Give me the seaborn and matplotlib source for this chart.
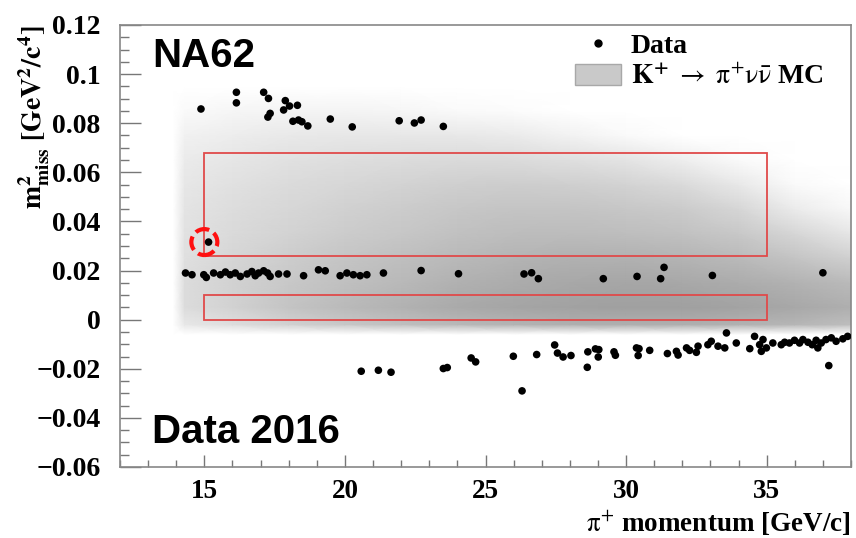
import numpy as np
import pandas as pd
import matplotlib
matplotlib.use("Agg")
import matplotlib.pyplot as plt
import seaborn as sns
from matplotlib.patches import Rectangle, Ellipse, Patch
from matplotlib.lines import Line2D
from matplotlib.ticker import MultipleLocator, FuncFormatter
from matplotlib.font_manager import FontProperties

# ---------------- data ----------------
# events above the signal region (m2 ~ 0.08)
high_p = [14.88, 16.14, 16.14, 17.11, 17.28, 17.34, 17.26, 17.88, 17.82, 18.03,
          18.31, 18.15, 18.35, 18.47, 18.68, 19.48, 20.26, 21.93, 22.47, 22.71, 23.50]
high_m2 = [0.0858, 0.0926, 0.0883, 0.0926, 0.0901, 0.0840, 0.0825, 0.0892, 0.0854, 0.0870,
           0.0873, 0.0808, 0.0813, 0.0806, 0.0789, 0.0817, 0.0785, 0.0810, 0.0801, 0.0813, 0.0787]

# K -> pi pi0 band (m2 ~ 0.018) and the candidate event
mid_p = [14.33, 14.56, 14.98, 15.07, 15.33, 15.57, 15.75, 15.92, 16.10, 16.28,
         16.52, 16.69, 16.81, 16.93, 17.11, 17.25, 17.34, 17.64, 17.94, 18.53,
         19.06, 19.30, 19.83, 20.07, 20.30, 20.54, 20.78, 21.37, 22.71, 24.04,
         26.37, 26.64, 26.88, 29.19, 30.39, 31.23, 31.35, 33.07, 37.00, 15.15]
mid_m2 = [0.0190, 0.0183, 0.0183, 0.0172, 0.0190, 0.0183, 0.0194, 0.0183, 0.0190, 0.0176,
          0.0186, 0.0196, 0.0179, 0.0190, 0.0199, 0.0190, 0.0176, 0.0186, 0.0186, 0.0179,
          0.0203, 0.0199, 0.0179, 0.0190, 0.0183, 0.0179, 0.0183, 0.0190, 0.0200, 0.0187,
          0.0186, 0.0191, 0.0167, 0.0167, 0.0176, 0.0167, 0.0213, 0.0180, 0.0191, 0.0316]

# K -> mu nu band (negative m2)
low_p = [20.58, 21.19, 21.64, 23.50, 23.64, 24.49, 24.65, 25.99, 26.30, 26.82,
         27.46, 27.56, 27.76, 28.04, 28.62, 28.64, 28.91, 29.01, 29.03, 29.57,
         29.62, 30.37, 30.43, 30.46, 30.84, 31.47, 31.79, 31.85, 32.15, 32.26,
         32.50, 32.56, 32.91, 33.03, 33.27, 33.51, 33.57, 33.92, 34.40, 34.57,
         34.75, 34.81, 34.87, 34.99, 35.22, 35.52, 35.64, 35.81, 35.99, 36.17,
         36.29, 36.47, 36.62, 36.76, 36.82, 36.94, 37.11, 37.21, 37.30, 37.47,
         37.71, 37.88]
low_m2 = [-0.0210, -0.0206, -0.0214, -0.0199, -0.0195, -0.0156, -0.0172, -0.0149, -0.0290, -0.0142,
          -0.0103, -0.0136, -0.0152, -0.0146, -0.0194, -0.0131, -0.0119, -0.0152, -0.0122, -0.0131,
          -0.0145, -0.0115, -0.0146, -0.0118, -0.0125, -0.0138, -0.0129, -0.0144, -0.0115, -0.0125,
          -0.0133, -0.0108, -0.0102, -0.0088, -0.0108, -0.0115, -0.0054, -0.0095, -0.0118, -0.0068,
          -0.0102, -0.0129, -0.0081, -0.0115, -0.0095, -0.0102, -0.0092, -0.0095, -0.0084, -0.0095,
          -0.0081, -0.0092, -0.0102, -0.0084, -0.0115, -0.0095, -0.0081, -0.0187, -0.0074, -0.0088,
          -0.0078, -0.0068]

# candidate event marked by the red dashed circle
candidate_p = 15.0
candidate_m2 = 0.0316

# signal regions (p_min, p_max), (m2_min, m2_max)
region_p = [(15, 35), (15, 35)]
region_m2 = [(0.0, 0.010), (0.026, 0.068)]

# MC density shown as grey level (255 = white) at grid nodes
mc_p_nodes = [13.9, 14.3, 16, 18, 20, 22, 24, 26, 28, 30, 32, 34, 36, 38]
mc_m2_nodes = [-0.006, -0.002, 0.005, 0.015, 0.025, 0.035, 0.045, 0.055, 0.065, 0.075, 0.085, 0.095]
mc_grey = [
    [255, 255, 255, 255, 255, 255, 255, 255, 255, 255, 255, 255, 255, 255],
    [255, 232, 222, 210, 200, 192, 185, 180, 176, 175, 175, 178, 182, 190],
    [255, 220, 210, 196, 186, 178, 170, 165, 162, 160, 160, 163, 168, 175],
    [255, 220, 210, 200, 192, 185, 177, 172, 168, 166, 168, 172, 178, 186],
    [255, 224, 214, 205, 197, 191, 185, 180, 177, 177, 180, 186, 196, 208],
    [255, 226, 218, 211, 204, 199, 193, 189, 188, 190, 193, 200, 214, 230],
    [255, 228, 221, 215, 209, 204, 199, 196, 196, 199, 203, 214, 235, 248],
    [255, 231, 225, 219, 215, 211, 207, 205, 207, 211, 218, 232, 250, 255],
    [255, 235, 230, 225, 222, 220, 218, 219, 223, 228, 238, 250, 255, 255],
    [255, 241, 237, 233, 231, 231, 232, 235, 242, 250, 255, 255, 255, 255],
    [255, 250, 246, 244, 244, 246, 250, 252, 255, 255, 255, 255, 255, 255],
    [255, 255, 255, 255, 255, 255, 255, 255, 255, 255, 255, 255, 255, 255],
]

xlabel = r"$\mathrm{\pi^{+}}$ momentum [GeV/c]"
ylabel = r"$\mathbf{m^{2}_{miss}\ [GeV^{2}/c^{4}]}$"
legend_labels = ["Data", r"$\mathbf{K^{+}}\ \rightarrow\ \mathrm{\pi^{+}\nu\bar{\nu}}$ MC"]
text_top = "NA62"
text_bottom = "Data 2016"

# ---------------- plotting ----------------
sns.set_theme(style="white")
plt.rcParams["font.family"] = ["Liberation Serif", "DejaVu Serif"]
plt.rcParams["mathtext.fontset"] = "stix"
plt.rcParams["axes.unicode_minus"] = True
plt.rcParams["text.color"] = "black"
plt.rcParams["axes.labelcolor"] = "black"

fig = plt.figure(figsize=(8.56, 5.38), dpi=100)
ax = fig.add_axes([120 / 856, 71 / 538, 731 / 856, 442 / 538])

# MC background
P, M = np.meshgrid(mc_p_nodes, mc_m2_nodes)
ax.pcolormesh(P, M, np.array(mc_grey, dtype=float), shading="gouraud",
              cmap="gray", vmin=0, vmax=255, zorder=0)

# signal regions
for (p0, p1), (m0, m1) in zip(region_p, region_m2):
    ax.add_patch(Rectangle((p0, m0), p1 - p0, m1 - m0, fill=False,
                           edgecolor="#e04a4a", linewidth=1.3, zorder=2))

# data points
df = pd.DataFrame({
    "p": high_p + mid_p + low_p,
    "m2": high_m2 + mid_m2 + low_m2,
})
sns.scatterplot(data=df, x="p", y="m2", ax=ax, color="black", s=30,
                edgecolor="none", linewidth=0, zorder=3, legend=False)

# candidate circle
ax.add_patch(Ellipse((candidate_p, candidate_m2), width=26 / 28.15, height=26 / 2460,
                     fill=False, edgecolor="#ff1010", linewidth=3.0,
                     linestyle=(0.8, (3.4, 1.3)), zorder=4))

ax.set_xlim(12, 38)
ax.set_ylim(-0.06, 0.12)

ax.xaxis.set_major_locator(MultipleLocator(5))
ax.xaxis.set_minor_locator(MultipleLocator(1))
ax.yaxis.set_major_locator(MultipleLocator(0.02))
ax.yaxis.set_minor_locator(MultipleLocator(0.005))


def fmt(v, pos):
    v = round(v, 6)
    if abs(v) < 1e-9:
        v = 0.0
    return f"{v:g}".replace("-", "\u2212")


ax.yaxis.set_major_formatter(FuncFormatter(fmt))
ax.xaxis.set_major_formatter(FuncFormatter(fmt))

ytick_fp = FontProperties(family=["Liberation Serif", "DejaVu Serif"], weight="bold", size=20)
xtick_fp = FontProperties(family=["Liberation Serif", "DejaVu Serif"], weight="bold", size=19.5)
ax.tick_params(axis="y", which="major", direction="in", length=15, width=1.0,
               color="#777777", pad=14, left=True, right=False, labelcolor="black")
ax.tick_params(axis="y", which="minor", direction="in", length=6.5, width=1.0,
               color="#777777", left=True, right=False)
ax.tick_params(axis="x", which="major", direction="in", length=9, width=1.0,
               color="#777777", pad=9, bottom=True, top=False, labelcolor="black")
ax.tick_params(axis="x", which="minor", direction="in", length=5, width=1.0,
               color="#777777", bottom=True, top=False)
for lab in ax.get_yticklabels():
    lab.set_fontproperties(ytick_fp)
for lab in ax.get_xticklabels():
    lab.set_fontproperties(xtick_fp)

for side in ["left", "bottom", "top", "right"]:
    ax.spines[side].set_visible(True)
    ax.spines[side].set_color("#888888")
    ax.spines[side].set_linewidth(1.2)

ax.set_xlabel(xlabel, fontsize=19.5, fontweight="bold", loc="right", color="black")
ax.xaxis.set_label_coords(1.0, -0.093)
ax.xaxis.label.set_va("top")
ax.set_ylabel(ylabel, fontsize=20, loc="top", color="black")
ax.yaxis.set_label_coords(-0.093, 1.0)

# legend
handles = [Line2D([], [], marker="o", linestyle="", color="black", markersize=5),
           Patch(facecolor="#c9c9c9", edgecolor="#a8a8a8", linewidth=1.0)]
leg = ax.legend(handles, legend_labels, loc="upper left",
                bbox_to_anchor=(575 / 856, 1 - 33 / 538), bbox_transform=fig.transFigure,
                frameon=False, borderpad=0, borderaxespad=0, labelspacing=0.2,
                handlelength=1.65, handleheight=0.75, handletextpad=0.35,
                prop=dict(family=["Liberation Serif", "DejaVu Serif"], weight="bold", size=20))
for t in leg.get_texts():
    t.set_color("black")

ax.text(0.0438, 0.905, text_top, transform=ax.transAxes, fontsize=29,
        fontweight="bold", family=["Liberation Sans", "DejaVu Sans"], color="black",
        ha="left", va="baseline", zorder=5)
ax.text(0.0438, 0.0543, text_bottom, transform=ax.transAxes, fontsize=29,
        fontweight="bold", family=["Liberation Sans", "DejaVu Sans"], color="black",
        ha="left", va="baseline", zorder=5)

fig.savefig("out.png", dpi=100)
